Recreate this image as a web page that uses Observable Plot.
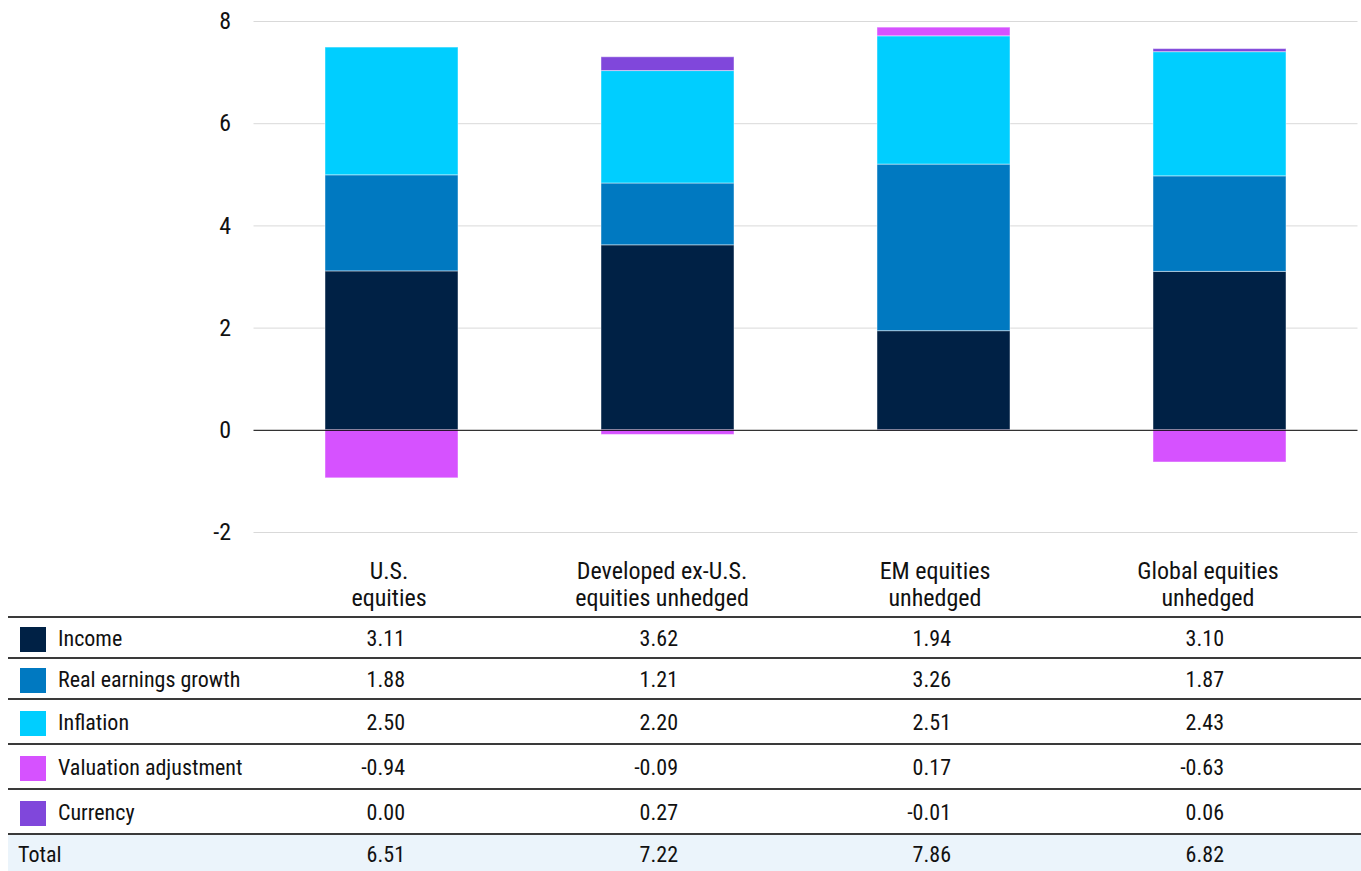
<!DOCTYPE html>
<html><head><meta charset="utf-8">
<script src="https://cdn.jsdelivr.net/npm/d3@7"></script>
<script src="https://cdn.jsdelivr.net/npm/@observablehq/plot@0.6"></script>
<style>
body{margin:0;background:#fff;font-family:"Liberation Sans Narrow","Roboto Condensed","DejaVu Sans Condensed","Liberation Sans",sans-serif;color:#111;}
#wrap{position:relative;width:1361px;height:871px;overflow:hidden;}
#chart svg{display:block}
#table{position:absolute;left:0;top:546px;width:1361px;height:325px;}
.hdr{position:absolute;top:12px;transform:translateX(-50%);text-align:center;font-size:24px;line-height:27px;white-space:nowrap;color:#111}
.line{position:absolute;left:8px;width:1353px;height:2px;background:#3a3a3a}
.row{position:absolute;left:0;width:1361px;}
.cell{position:absolute;top:1px;height:100%;display:flex;align-items:center;font-size:22px;line-height:26px;white-space:nowrap;color:#111}
.num{justify-content:flex-end}
.sw{position:absolute;left:20px;width:26px;height:25px}
.total{background:#EBF4FB}
</style>
</head><body>
<div id="wrap"><div id="chart"></div><div id="table"></div></div>
<script>
// ---- data ----
const categories = ["U.S. equities", "Developed ex-U.S. equities unhedged", "EM equities unhedged", "Global equities unhedged"];
const headerLines = [["U.S.", "equities"], ["Developed ex-U.S.", "equities unhedged"], ["EM equities", "unhedged"], ["Global equities", "unhedged"]];
const components = ["Income", "Real earnings growth", "Inflation", "Valuation adjustment", "Currency"];
const colors = ["#002145", "#0079C1", "#00CEFF", "#D652FF", "#8047DB"];
const income = [3.11, 3.62, 1.94, 3.10];
const realEarnings = [1.88, 1.21, 3.26, 1.87];
const inflation = [2.50, 2.20, 2.51, 2.43];
const valuation = [-0.94, -0.09, 0.17, -0.63];
const currency = [0.00, 0.27, -0.01, 0.06];
const totals = [6.51, 7.22, 7.86, 6.82];
const yTicks = [-2, 0, 2, 4, 6, 8];

const seriesValues = [income, realEarnings, inflation, valuation, currency];
const rows = [];
components.forEach((c, i) => categories.forEach((cat, j) => rows.push({component: c, category: cat, value: seriesValues[i][j]})));

const FONT = '"Liberation Sans Narrow","Roboto Condensed","DejaVu Sans Condensed","Liberation Sans",sans-serif';
const plot = Plot.plot({
  width: 1361, height: 546,
  marginTop: 21, marginBottom: 14, marginLeft: 253.5, marginRight: 3.5,
  style: {fontFamily: FONT, fontSize: "24px", color: "#111", background: "#fff"},
  x: {domain: categories, paddingInner: 0.518, paddingOuter: 0.259, axis: null},
  y: {domain: [-2, 8], axis: null},
  color: {domain: components, range: colors},
  marks: [
    Plot.gridY(yTicks.filter(d => d !== 0), {stroke: "#d9d9d9", strokeOpacity: 1}),
    Plot.axisY(yTicks, {label: null, tickSize: 0, tickPadding: 23, tickFormat: d => String(d), fontSize: 24}),
    Plot.barY(rows, {x: "category", y: "value", fill: "component", stroke: "#fff", strokeOpacity: 0.45, strokeWidth: 1}),
    Plot.ruleY([0], {stroke: "#000", strokeWidth: 1})
  ]
});
document.getElementById("chart").appendChild(plot);

// ---- table below the chart ----
const tbl = document.getElementById("table");
const colLeft = 252.5, colW = 273;
const centers = categories.map((_, j) => colLeft + colW * (j + 0.5));
headerLines.forEach((lines, j) => {
  const d = document.createElement("div");
  d.className = "hdr";
  d.style.left = centers[j] + "px";
  d.innerHTML = lines.join("<br>");
  tbl.appendChild(d);
});
const rowH = [41, 41, 45, 45, 45];
let y = 71;
function addLine(yy) { const l = document.createElement("div"); l.className = "line"; l.style.top = (yy - 1) + "px"; tbl.appendChild(l); }
function addRow(top, h, label, values, color, isTotal) {
  const r = document.createElement("div");
  r.className = "row" + (isTotal ? " total" : "");
  r.style.top = top + "px"; r.style.height = h + "px";
  if (isTotal) { r.style.left = "8px"; r.style.width = "1353px"; }
  const off = isTotal ? 8 : 0;
  if (color) {
    const s = document.createElement("div"); s.className = "sw"; s.style.background = color;
    s.style.top = ((h - 25) / 2 + 1) + "px"; r.appendChild(s);
  }
  const lb = document.createElement("div"); lb.className = "cell";
  lb.style.left = ((color ? 58 : 18) - off) + "px"; lb.textContent = label; r.appendChild(lb);
  values.forEach((v, j) => {
    const c = document.createElement("div"); c.className = "cell num";
    c.style.left = (centers[j] - 100 - off) + "px"; c.style.width = "116px";
    c.textContent = v.toFixed(2); r.appendChild(c);
  });
  tbl.appendChild(r);
}
components.forEach((c, i) => {
  addLine(y);
  addRow(y + 1, rowH[i] - 1, c, seriesValues[i], colors[i], false);
  y += rowH[i];
});
addLine(y);
addRow(y + 1, 325 - y, "Total", totals, null, true);
</script>
</body></html>
